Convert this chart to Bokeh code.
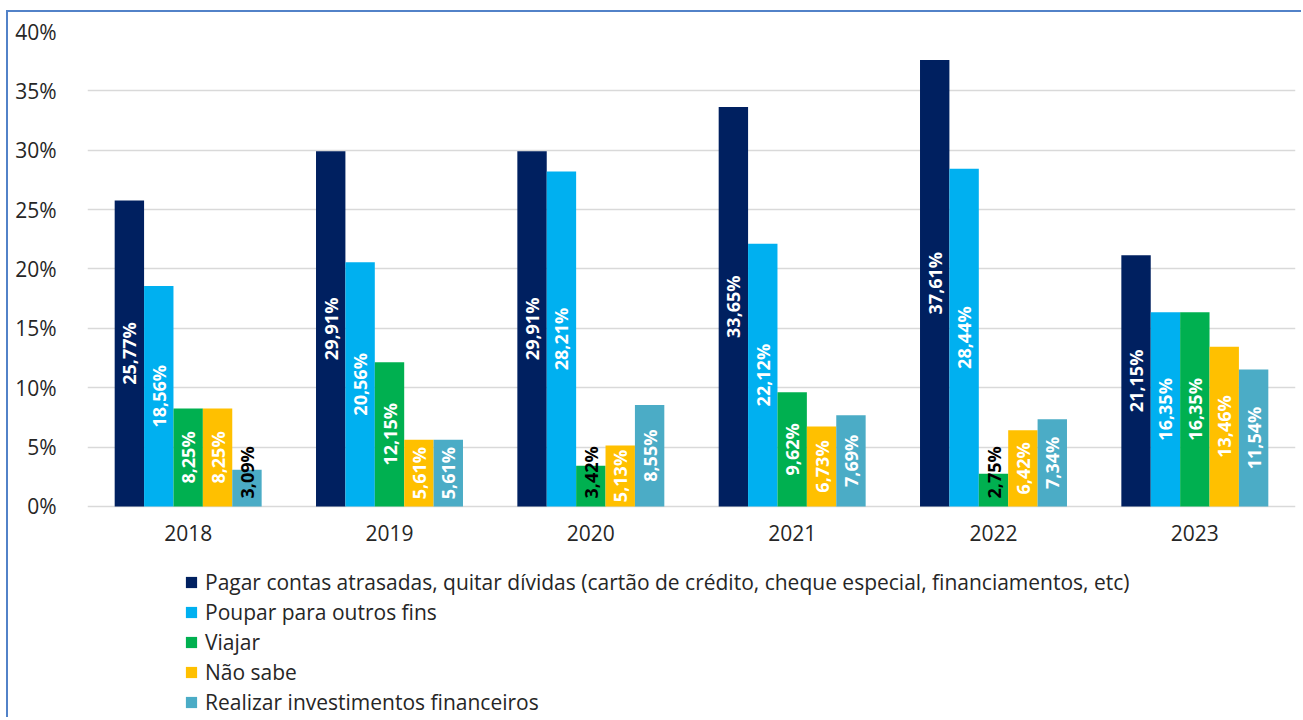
import math
from bokeh.plotting import figure
from bokeh.models import (ColumnDataSource, FactorRange, Range1d, FixedTicker,
                          PrintfTickFormatter, Legend, LegendItem)
from bokeh.transform import dodge
from bokeh.core.properties import value
from bokeh.embed import file_html
from bokeh.resources import INLINE

# ---- data ----
years = ["2018", "2019", "2020", "2021", "2022", "2023"]
series_names = [
    "Pagar contas atrasadas, quitar dívidas (cartão de crédito, cheque especial, financiamentos, etc)",
    "Poupar para outros fins",
    "Viajar",
    "Não sabe",
    "Realizar investimentos financeiros",
]
pagar = [25.77, 29.91, 29.91, 33.65, 37.61, 21.15]
poupar = [18.56, 20.56, 28.21, 22.12, 28.44, 16.35]
viajar = [8.25, 12.15, 3.42, 9.62, 2.75, 16.35]
nao_sabe = [8.25, 5.61, 5.13, 6.73, 6.42, 13.46]
investir = [3.09, 5.61, 8.55, 7.69, 7.34, 11.54]
y_ticks = [0, 5, 10, 15, 20, 25, 30, 35, 40]

series_values = [pagar, poupar, viajar, nao_sabe, investir]
colors = ["#002060", "#00B0F0", "#00B050", "#FFC000", "#4BACC6"]

FONT = "Open Sans"
BAR_W = 0.146
offsets = [-2 * BAR_W, -BAR_W, 0.0, BAR_W, 2 * BAR_W]
SMALL = 4.0


def fmt(v):
    return f"{v:.2f}".replace(".", ",") + "%"


# frame extends below 0 so the year labels and the legend sit inside it
p = figure(x_range=FactorRange(factors=years), y_range=Range1d(-17.94, 40),
           width=1295, height=707, output_backend="svg", toolbar_location=None,
           min_border_left=79, min_border_right=8, min_border_top=19,
           min_border_bottom=0)
p.outline_line_color = None
p.background_fill_color = "white"
p.border_fill_color = "white"
p.styles = {"margin-top": "10px", "margin-left": "6px",
            "border-top": "2px solid #5282C8", "border-left": "2px solid #5282C8"}

items = []
for i, (name, vals, col) in enumerate(zip(series_names, series_values, colors)):
    src = ColumnDataSource(dict(x=years, top=vals))
    r = p.vbar(x=dodge("x", offsets[i], range=p.x_range), top="top", bottom=0,
               width=BAR_W, source=src, fill_color=col, line_color=None)
    items.append(LegendItem(label=name, renderers=[r]))

    inside = [(y, v) for y, v in zip(years, vals) if v >= SMALL]
    base = [(y, v) for y, v in zip(years, vals) if v < SMALL]
    if inside:
        s_in = ColumnDataSource(dict(x=[a for a, _ in inside],
                                     y=[b / 2 for _, b in inside],
                                     t=[fmt(b) for _, b in inside]))
        p.text(x=dodge("x", offsets[i], range=p.x_range), y="y", text="t", source=s_in,
               angle=math.pi / 2, text_align="center", text_baseline="middle",
               text_color="white", text_font=value(FONT), text_font_style="bold",
               text_font_size="18px")
    if base:
        s_b = ColumnDataSource(dict(x=[a for a, _ in base],
                                    y=[0 for _ in base],
                                    t=[fmt(b) for _, b in base]))
        p.text(x=dodge("x", offsets[i], range=p.x_range), y="y", text="t", source=s_b,
               angle=math.pi / 2, text_align="left", text_baseline="middle",
               y_offset=-8,
               text_color="black", text_font=value(FONT), text_font_style="bold",
               text_font_size="18px")

# axes
p.yaxis.ticker = FixedTicker(ticks=y_ticks)
p.yaxis.formatter = PrintfTickFormatter(format="%d%%")
for ax in (p.xaxis, p.yaxis):
    ax.axis_line_color = None
    ax.major_tick_line_color = None
    ax.minor_tick_line_color = None
    ax.major_label_text_font = FONT
    ax.major_label_text_font_size = "21px"
    ax.major_label_text_color = "#262626"
p.yaxis.major_label_standoff = 25
p.xaxis.major_label_standoff = 13
p.xaxis.fixed_location = 0
p.xgrid.grid_line_color = None
p.ygrid.grid_line_color = "#D9D9D9"
p.ygrid.grid_line_width = 1.5

legend = Legend(items=items, location=(97, 3), orientation="vertical",
                border_line_color=None, background_fill_alpha=0, padding=0,
                spacing=2, glyph_width=14, glyph_height=14, label_standoff=7,
                label_text_font=FONT, label_text_font_size="21px",
                label_text_color="#262626", margin=0)
p.add_layout(legend)

open("out.html", "w").write(file_html(p, INLINE))
